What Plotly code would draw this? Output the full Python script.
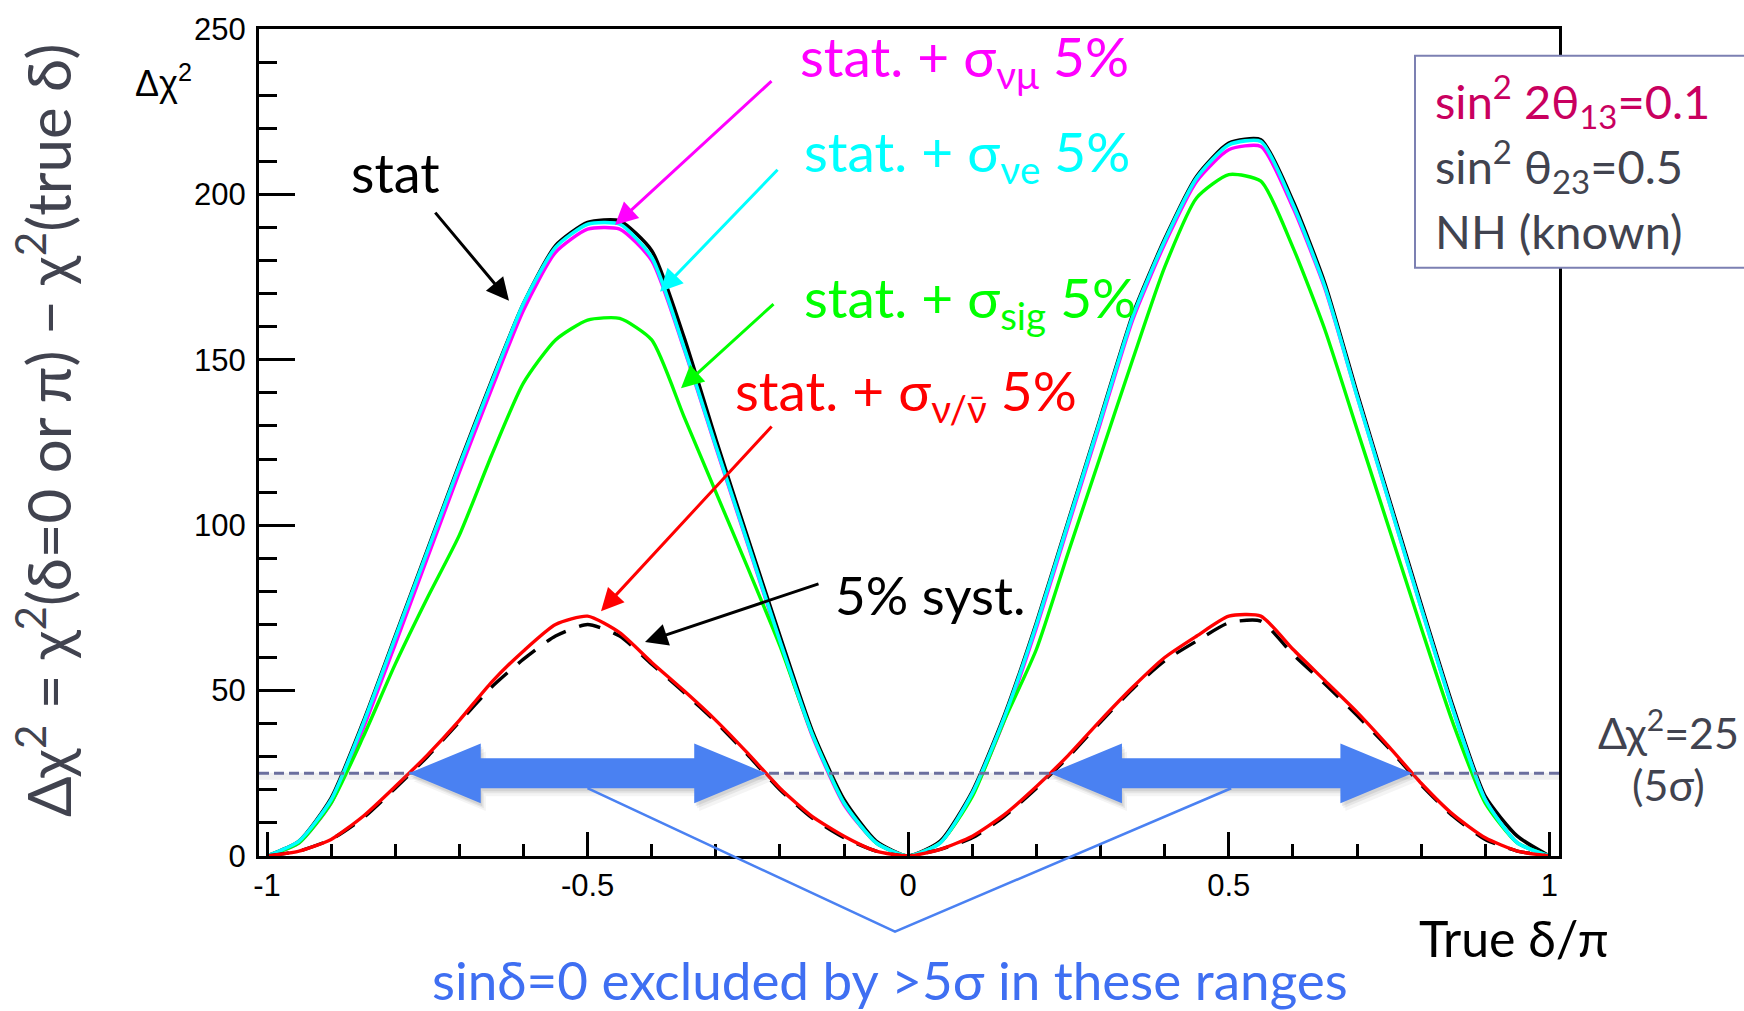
import numpy as np
import plotly.graph_objects as go

# ---------------- data ----------------
delta = [-1.00, -0.95, -0.90, -0.85, -0.80, -0.75, -0.70, -0.65, -0.60, -0.55, -0.50,
         -0.45, -0.40, -0.35, -0.30, -0.25, -0.20, -0.15, -0.10, -0.05, 0.00,
         0.05, 0.10, 0.15, 0.20, 0.25, 0.30, 0.35, 0.40, 0.45, 0.50,
         0.55, 0.60, 0.65, 0.70, 0.75, 0.80, 0.85, 0.90, 0.95, 1.00]

stat = [0, 4.5, 17.5, 40.5, 66.5, 92.5, 118.5, 143.5, 167, 184.5, 191.5,
        192, 183, 157, 126, 96, 66.5, 38, 17, 4.5, 0,
        4.5, 19.5, 42.5, 70.5, 101.5, 132.5, 163.5, 186.5, 205.5, 215.5,
        216.5, 198, 173, 140, 108, 76, 45, 18, 6, 0]

sig_nue = [0, 4.5, 17, 40, 66, 92, 118, 143, 167, 184, 191,
           191, 181, 154, 124, 94.5, 65, 37, 16, 4, 0,
           4, 19, 42, 70, 101, 132, 163, 186, 205, 215,
           216, 197, 172, 139, 107, 75, 44, 17, 4, 0]

sig_numu = [0, 4, 16, 38.5, 64, 90, 116, 141, 165, 182.5, 189.5,
            189.5, 180, 153.5, 123.5, 94, 64.5, 36.5, 15.5, 4, 0,
            4, 18.5, 41, 69, 100, 131, 162, 185, 204, 213.5,
            214.5, 196, 171.5, 139, 107, 75, 44, 17, 4, 0]

sig_sig = [0, 4, 16, 36, 58, 78, 97, 121, 143, 156, 162,
           162.5, 156, 133, 110, 87, 63.5, 37, 16, 4, 0,
           4, 18, 41, 62.5, 92, 121, 150, 178, 199, 206,
           204, 184, 159, 129, 99, 69, 40, 16, 4, 0]

sig_nunubar = [0, 1.5, 5, 12, 21, 30.5, 41, 52.5, 62, 70, 72.5,
               67.5, 58.5, 50, 41, 31, 20.5, 12, 6, 1.5, 0,
               2, 6, 12.5, 21, 30.5, 41, 51, 60, 66.5, 72.5,
               72.5, 62.5, 53, 43.5, 33, 22, 12.5, 5.5, 1.5, 0]

syst5 = [0, 1.5, 5, 11.5, 20.5, 30, 40.5, 51, 59.5, 66.5, 70,
         66.5, 58, 49.5, 40.5, 30.5, 20, 11.5, 5.5, 1.5, 0,
         2, 5.5, 12, 20.5, 30, 40.5, 50.5, 59, 65, 70.5,
         71, 61, 52, 42.5, 32.5, 21.5, 12, 5, 1.5, 0]

threshold = 25
xticks = [-1, -0.5, 0, 0.5, 1]
xticktext = ["-1", "-0.5", "0", "0.5", "1"]
yticks = [0, 50, 100, 150, 200, 250]
yticktext = ["0", "50", "100", "150", "200", "250"]

# ---------------- layout geometry ----------------
W_FIG, H_FIG = 1744, 1011
L, R, T, B = 259, 1559, 25, 856          # plot frame in pixels
XR = [-1.0125, 1.015]
YR = [0, 250]

def px_x(px):   # pixel -> paper x
    return (px - L) / (R - L)

def px_y(py):   # pixel -> paper y
    return (B - py) / (B - T)

def dx(px):     # pixel -> data x
    return XR[0] + (px - L) / (R - L) * (XR[1] - XR[0])

def dy(py):     # pixel -> data y
    return YR[0] + (B - py) / (B - T) * (YR[1] - YR[0])

def data_to_px_x(x):
    return L + (x - XR[0]) / (XR[1] - XR[0]) * (R - L)

def data_to_px_y(y):
    return B - (y - YR[0]) / (YR[1] - YR[0]) * (B - T)

fig = go.Figure()

def add_line(y, color, width=3.4, dash=None):
    fig.add_trace(go.Scatter(x=delta, y=y, mode="lines",
                             line=dict(color=color, width=width, dash=dash,
                                       shape="spline", smoothing=0.6),
                             hoverinfo="skip", showlegend=False))

add_line(stat, "#000000", 3.6)
add_line(sig_numu, "#ff00ff", 3.4)
add_line(sig_sig, "#00ff00", 3.4)
add_line(sig_nue, "#00ffff", 3.6)
add_line(syst5, "#000000", 3.4, "22px,14px")
add_line(sig_nunubar, "#ff0000", 3.4)

# ---------------- threshold line with soft shadow ----------------
fig.add_shape(type="line", xref="paper", yref="y", x0=0, x1=1,
              y0=threshold - 0.9, y1=threshold - 0.9,
              line=dict(color="rgba(140,140,150,0.13)", width=7), layer="above")
fig.add_shape(type="line", xref="paper", yref="y", x0=0, x1=1,
              y0=threshold, y1=threshold,
              line=dict(color="#6b6f9e", width=3, dash="10px,5px"), layer="above")

# ---------------- big double arrows (tips at red-curve crossings) ----------------
xd = np.array(delta)
yr = np.array(sig_nunubar)

def crossings(xs, ys, level):
    out = []
    for i in range(len(xs) - 1):
        a, b = ys[i] - level, ys[i + 1] - level
        if a * b < 0:
            out.append(xs[i] + (xs[i + 1] - xs[i]) * (-a) / (b - a))
    return out

cr = crossings(xd, yr, threshold)
ranges = [(cr[0], cr[1]), (cr[2], cr[3])]

HEAD_LEN, HEAD_HALF, SHAFT_HALF = 72, 30, 15
ARROW_BLUE = "#4a81f2"
vpoints = []
for (xa, xb) in ranges:
    pa, pb = data_to_px_x(xa), data_to_px_x(xb)
    py = data_to_px_y(threshold)
    pts = [(pa, py), (pa + HEAD_LEN, py - HEAD_HALF), (pa + HEAD_LEN, py - SHAFT_HALF),
           (pb - HEAD_LEN, py - SHAFT_HALF), (pb - HEAD_LEN, py - HEAD_HALF), (pb, py),
           (pb - HEAD_LEN, py + HEAD_HALF), (pb - HEAD_LEN, py + SHAFT_HALF),
           (pa + HEAD_LEN, py + SHAFT_HALF), (pa + HEAD_LEN, py + HEAD_HALF)]
    layers = [((5, 8), "rgba(60,60,60,0.06)"), ((3, 5), "rgba(60,60,60,0.08)"),
              ((1.5, 3), "rgba(60,60,60,0.10)"), ((0, 0), ARROW_BLUE)]
    for off, col in layers:
        q = [(px_x(x + off[0]), px_y(y + off[1])) for x, y in pts]
        path = "M " + " L ".join(f"{a:.5f},{b:.5f}" for a, b in q) + " Z"
        fig.add_shape(type="path", xref="paper", yref="paper", path=path,
                      fillcolor=col, line=dict(width=0), layer="above")
    vpoints.append(((pa + pb) / 2, py + SHAFT_HALF))

# V lines to the caption
vx, vy = 895, 932
path = (f"M {px_x(vpoints[0][0]):.5f},{px_y(vpoints[0][1]):.5f} "
        f"L {px_x(vx):.5f},{px_y(vy):.5f} "
        f"L {px_x(vpoints[1][0]):.5f},{px_y(vpoints[1][1]):.5f}")
fig.add_shape(type="path", xref="paper", yref="paper", path=path,
              line=dict(color="#4a81f2", width=2.5), layer="above")

# ---------------- info box ----------------
fig.add_shape(type="rect", xref="paper", yref="paper",
              x0=px_x(1415), x1=px_x(1760), y0=px_y(265), y1=px_y(52),
              fillcolor="white", line=dict(color="#7c80b2", width=2), layer="above")

TXT_FONT = "Lato, Open Sans, sans-serif"
GREY = "#41434f"

def txt(text, px, py, size, color, xanchor="left", family=TXT_FONT, angle=0):
    fig.add_annotation(text=text, xref="paper", yref="paper",
                       x=px_x(px), y=px_y(py), xanchor=xanchor, yanchor="middle",
                       showarrow=False, textangle=angle,
                       font=dict(family=family, size=size, color=color))

txt("sin<sup>2</sup> 2θ<sub>13</sub>=0.1", 1433, 98, 47, "#c9005f")
txt("sin<sup>2</sup> θ<sub>23</sub>=0.5", 1433, 163, 47, GREY)
txt("NH (known)", 1433, 228, 47, GREY)

# ---------------- curve labels ----------------
txt("stat. + σ<sub>νμ</sub> 5%", 798, 56, 55, "#ff00ff")
txt("stat. + σ<sub>νe</sub> 5%", 802, 152, 55, "#00ffff")
txt("stat. + σ<sub>sig</sub> 5%", 802, 298, 55, "#00ff00")
txt("stat. + σ<sub>ν/ν̄</sub> 5%", 733, 392, 55, "#ff0000")
txt("5% syst.", 833, 593, 53, "#000000")
txt("stat", 349, 169, 54, "#000000")

def arrow(tail, tip, color):
    fig.add_annotation(x=dx(tip[0]), y=dy(tip[1]), ax=dx(tail[0]), ay=dy(tail[1]),
                       xref="x", yref="y", axref="x", ayref="y", text="",
                       showarrow=True, arrowhead=2, arrowsize=1.5, arrowwidth=3,
                       arrowcolor=color, standoff=0)

arrow((773, 76), (615, 222), "#ff00ff")
arrow((779, 165), (660, 289), "#00ffff")
arrow((775, 300), (681, 386), "#00ff00")
arrow((773, 423), (601, 610), "#ff0000")
arrow((820, 582), (645, 641), "#000000")
arrow((434, 208), (509, 298), "#000000")

# ---------------- other texts ----------------
AX_FONT = "Liberation Sans, Arial, Helvetica, sans-serif"
txt("Δχ<sup>2</sup>", 133, 77, 36, "#000000", family=AX_FONT)
txt("Δχ<sup>2</sup>=25", 1668, 729, 43, GREY, xanchor="center")
txt("(5σ)", 1668, 784, 43, GREY, xanchor="center")
txt("True δ/π", 1417, 938, 50, "#000000")
txt("sinδ=0 excluded by >5σ in these ranges", 890, 980, 53, "#3f6ff2", xanchor="center")
txt("Δχ<sup>2</sup> = χ<sup>2</sup>(δ=0 or π) − χ<sup>2</sup>(true δ)", 44, 428, 60, GREY,
    xanchor="center", angle=-90)

# ---------------- axes ----------------
fig.update_layout(
    width=W_FIG, height=H_FIG, autosize=False,
    margin=dict(l=L, r=W_FIG - R, t=T, b=H_FIG - B, pad=0),
    paper_bgcolor="white", plot_bgcolor="white",
    showlegend=False,
    xaxis=dict(range=XR, showgrid=False, zeroline=False, showline=True,
               linecolor="black", linewidth=3, mirror=True,
               ticks="inside", ticklen=24, tickwidth=2.5, tickcolor="black",
               tickvals=xticks, ticktext=xticktext,
               minor=dict(dtick=0.1, tick0=0, ticks="inside", ticklen=12,
                          tickwidth=2.5, tickcolor="black"),
               tickfont=dict(family=AX_FONT, size=31, color="black")),
    yaxis=dict(range=YR, showgrid=False, zeroline=False, showline=True,
               linecolor="black", linewidth=3, mirror=True,
               ticks="inside", ticklen=36, tickwidth=2.5, tickcolor="black",
               tickvals=yticks, ticktext=yticktext,
               minor=dict(dtick=10, tick0=0, ticks="inside", ticklen=18,
                          tickwidth=2.5, tickcolor="black"),
               tickfont=dict(family=AX_FONT, size=31, color="black"),
               ticklabelstandoff=4),
)

fig.write_html("out.html")
